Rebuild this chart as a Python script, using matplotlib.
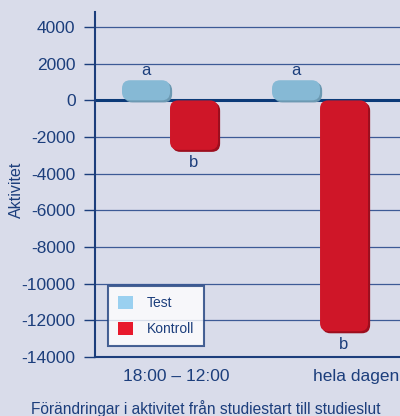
import matplotlib.pyplot as plt
from matplotlib.patches import FancyBboxPatch, Patch
import numpy as np

plt.rcParams['font.family'] = ['Liberation Sans', 'DejaVu Sans']

groups = ['18:00 – 12:00', 'hela dagen']
test = [1100, 1100]
kontroll = [-2700, -12600]
test_letters = ['a', 'a']
kontroll_letters = ['b', 'b']

bg = '#D9DCEA'
navy = '#1C3E7C'
test_col = '#86B9D5'
test_dark = '#6C99B2'
kon_col = '#CF1628'
kon_dark = '#9C0E1E'

fig = plt.figure(figsize=(4.0, 4.16), dpi=100, facecolor=bg)
ax = fig.add_axes([0.2375, 0.142, 0.7625, 0.829])
ax.set_facecolor(bg)

x = np.arange(len(groups))
w = 0.32
bars_t = ax.bar(x - w / 2, test, w, color=test_col)
bars_k = ax.bar(x + w / 2, kontroll, w, color=kon_col)

ax.set_xlim(-0.5, 1.533)
ax.set_ylim(-14000, 4820)

# rounded bars with a darker shadow edge
aspect = 8200
for bars, c, dark in [(bars_t, test_col, test_dark), (bars_k, kon_col, kon_dark)]:
    for b in bars:
        bx, bw = b.get_x(), b.get_width()
        y0 = min(b.get_y(), b.get_y() + b.get_height())
        bh = abs(b.get_height())
        b.set_visible(False)
        shadow = FancyBboxPatch((bx + 0.014, y0 - 110), bw, bh,
                                boxstyle='round,pad=0,rounding_size=0.055',
                                mutation_aspect=aspect, fc=dark, ec='none', zorder=3)
        face = FancyBboxPatch((bx, y0), bw, bh,
                              boxstyle='round,pad=0,rounding_size=0.055',
                              mutation_aspect=aspect, fc=c, ec='none', zorder=4)
        ax.add_patch(shadow)
        ax.add_patch(face)

for i in range(len(groups)):
    ax.text(x[i] - w / 2, test[i] + 120, test_letters[i], ha='center', va='bottom',
            fontsize=12, color=navy, zorder=5)
    ax.text(x[i] + w / 2, kontroll[i] - 300, kontroll_letters[i], ha='center', va='top',
            fontsize=12, color=navy, zorder=5)

ax.set_yticks(np.arange(-14000, 4001, 2000))
ax.set_yticklabels([str(v) for v in np.arange(-14000, 4001, 2000)])
ax.yaxis.grid(True, color='#3D5A96', linewidth=0.9)
ax.set_axisbelow(True)
ax.axhline(0, color='#0C3A78', linewidth=2.2, zorder=2)

ax.set_xticks([0.04, 1.24])
ax.set_xticklabels(groups)
ax.tick_params(axis='x', length=0, pad=9, labelsize=12.5, colors=navy)
ax.tick_params(axis='y', length=8, width=1, direction='out', labelsize=12.5,
               colors=navy, pad=6)

for s in ['top', 'right']:
    ax.spines[s].set_visible(False)
for s in ['left', 'bottom']:
    ax.spines[s].set_color(navy)
    ax.spines[s].set_linewidth(1.5)

ax.set_ylabel('Aktivitet', fontsize=11.5, color=navy)
ax.yaxis.set_label_coords(-0.232, 0.484)

handles = [Patch(fc='#9AD0F0', ec='none', label='Test'),
           Patch(fc='#E8192C', ec='none', label='Kontroll')]
leg = ax.legend(handles=handles, loc='lower left', bbox_to_anchor=(0.042, 0.032),
                fontsize=10, frameon=True, fancybox=False, handlelength=1.1,
                handleheight=1.1, borderpad=0.7, labelspacing=0.85, handletextpad=1.0,
                borderaxespad=0)
leg.get_frame().set_edgecolor(navy)
leg.get_frame().set_linewidth(1.5)
leg.get_frame().set_facecolor('white')
for t in leg.get_texts():
    t.set_color(navy)

fig.text(0.515, 0.019, 'Förändringar i aktivitet från studiestart till studieslut',
         ha='center', va='center', fontsize=11.2, color=navy)

fig.savefig('out.png', dpi=100, facecolor=bg)
